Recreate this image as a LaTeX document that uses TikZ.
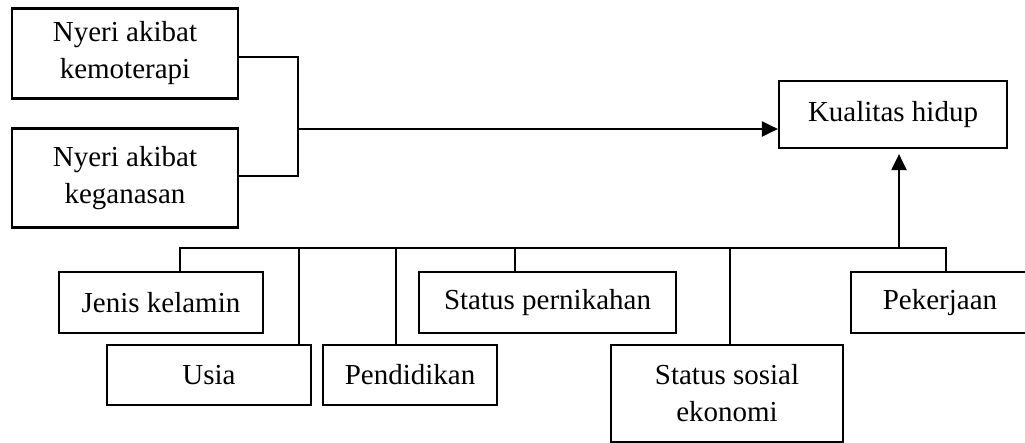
\documentclass[tikz,border=0pt]{standalone}
\usepackage{fontspec}
\setmainfont{Liberation Serif}
\usetikzlibrary{arrows.meta}
\begin{document}
\begin{tikzpicture}[x=1pt,y=-1pt,
  box/.style={draw,line width=2.2pt,inner sep=0pt,align=center,
    font=\fontsize{29}{37}\selectfont},
  conn/.style={line width=2.2pt},
  arr/.style={line width=2.2pt,-{Triangle[length=16pt,width=15pt]}}]
\useasboundingbox (0,0) rectangle (1025,443);
% boxes
\node[box,minimum width=226pt,minimum height=90pt] (k1) at (125,53.5) {Nyeri akibat\\kemoterapi};
\node[box,minimum width=226pt,minimum height=99pt] (k2) at (125,178) {Nyeri akibat\\keganasan};
\node[box,minimum width=228pt,minimum height=67pt] (kh) at (893,114.5) {Kualitas hidup};
\node[box,minimum width=204pt,minimum height=61pt] (jk) at (161,302.5) {Jenis kelamin};
\node[box,minimum width=204pt,minimum height=60pt] (us) at (209,375) {Usia};
\node[box,minimum width=174pt,minimum height=60pt] (pd) at (410,375) {Pendidikan};
\node[box,minimum width=257pt,minimum height=61pt] (sp) at (547.5,302.5) {Status pernikahan};
\node[box,minimum width=232pt,minimum height=97pt] (ss) at (727,393.5) {Status sosial\\ekonomi};
\node[box,minimum width=178pt,minimum height=61pt] (pk) at (940,302.5) {Pekerjaan};
% bracket to Kualitas hidup
\coordinate (b1) at (298,57);
\coordinate (b2) at (298,176);
\coordinate (bm) at (298,129);
\draw[conn] (k1.east |- b1) -- (b1) -- (b2) -- (k2.east |- b2);
\draw[arr] (bm) -- (kh.west |- bm);
% bus
\coordinate (bl) at (180,248);
\coordinate (br) at (946,248);
\coordinate (bu) at (899,248);
\draw[conn] (jk.north -| bl) -- (bl) -- (br) -- (pk.north -| br);
\draw[conn] (us.north -| 299,248) -- (299,248);
\draw[conn] (pd.north -| 396,248) -- (396,248);
\draw[conn] (sp.north -| 515,248) -- (515,248);
\draw[conn] (ss.north -| 730,248) -- (730,248);
\draw[arr,shorten >=5pt] (bu) -- (kh.south -| bu);
\end{tikzpicture}
\end{document}
